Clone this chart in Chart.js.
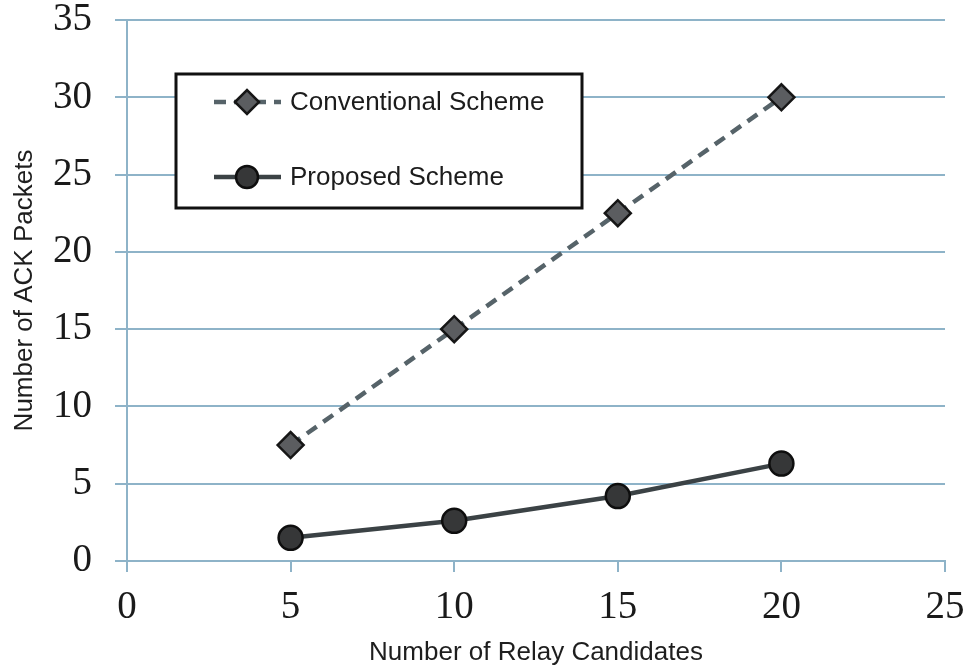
<!DOCTYPE html>
<html>
<head>
<meta charset="utf-8">
<script src="https://cdn.jsdelivr.net/npm/chart.js@4"></script>
<style>
html,body{margin:0;padding:0;background:#fff;}
#wrap{width:972px;height:669px;position:relative;}
</style>
</head>
<body>
<div id="wrap"><canvas id="c" width="972" height="669"></canvas></div>
<script>
const relayCandidates = [5, 10, 15, 20];
const conventionalAck = [7.5, 15, 22.5, 30];
const proposedAck = [1.5, 2.6, 4.2, 6.3];
const xTicks = [0, 5, 10, 15, 20, 25];
const yTicks = [0, 5, 10, 15, 20, 25, 30, 35];
const seriesNames = ['Conventional Scheme', 'Proposed Scheme'];
const xTitle = 'Number of Relay Candidates';
const yTitle = 'Number of ACK Packets';

const gridColor = '#8eb3c8';
const tickFont = {family: '"Liberation Serif", "Times New Roman", serif', size: 39, lineHeight: 1};
const titleFont = {family: '"Liberation Sans", Arial, sans-serif', size: 26};

const legendPlugin = {
  id: 'boxLegend',
  afterDraw(chart) {
    const ctx = chart.ctx;
    const box = {x: 176, y: 74, w: 406, h: 134};
    ctx.save();
    ctx.fillStyle = '#fff';
    ctx.fillRect(box.x, box.y, box.w, box.h);
    ctx.lineWidth = 3;
    ctx.strokeStyle = '#111';
    ctx.strokeRect(box.x, box.y, box.w, box.h);
    const rows = [102, 177];
    chart.data.datasets.forEach((ds, i) => {
      const y = rows[i];
      ctx.save();
      ctx.strokeStyle = ds.borderColor;
      ctx.lineWidth = ds.borderWidth;
      ctx.setLineDash(ds.borderDash || []);
      ctx.beginPath();
      ctx.moveTo(214, y);
      ctx.lineTo(281, y);
      ctx.stroke();
      ctx.restore();
      ctx.save();
      ctx.fillStyle = ds.pointBackgroundColor;
      ctx.strokeStyle = ds.pointBorderColor;
      ctx.lineWidth = ds.pointBorderWidth;
      Chart.helpers.drawPoint(ctx, {pointStyle: ds.pointStyle, radius: ds.pointRadius - 1, rotation: 0, borderWidth: ds.pointBorderWidth}, 247, y);
      ctx.restore();
      ctx.fillStyle = '#1c1c1c';
      ctx.font = '26px "Liberation Sans", Arial, sans-serif';
      ctx.textBaseline = 'middle';
      ctx.textAlign = 'left';
      ctx.fillText(ds.label, 290, y + 1);
    });
    ctx.restore();
  }
};

new Chart(document.getElementById('c'), {
  type: 'line',
  data: {
    datasets: [
      {
        label: seriesNames[0],
        data: relayCandidates.map((x, i) => ({x: x, y: conventionalAck[i]})),
        borderColor: '#566369',
        borderWidth: 4.5,
        borderDash: [12, 8],
        pointStyle: 'rectRot',
        pointRadius: 13,
        pointBackgroundColor: '#5b5d60',
        pointBorderColor: '#161616',
        pointBorderWidth: 2.5,
        tension: 0
      },
      {
        label: seriesNames[1],
        data: relayCandidates.map((x, i) => ({x: x, y: proposedAck[i]})),
        borderColor: '#3b4245',
        borderWidth: 4.5,
        pointStyle: 'circle',
        pointRadius: 12,
        pointBackgroundColor: '#363738',
        pointBorderColor: '#0e0e0e',
        pointBorderWidth: 2.5,
        tension: 0
      }
    ]
  },
  options: {
    responsive: false,
    animation: false,
    devicePixelRatio: 1,
    layout: {padding: {left: 0, top: 20, right: 27, bottom: 0}},
    plugins: {legend: {display: false}, tooltip: {enabled: false}},
    scales: {
      x: {
        type: 'linear',
        min: 0, max: 25,
        afterFit(s) { s.height = 108; s.paddingLeft = 0; s.paddingRight = 0; },
        afterBuildTicks(s) { s.ticks = xTicks.map(v => ({value: v})); },
        grid: {drawOnChartArea: false, drawTicks: true, tickLength: 11, color: gridColor, lineWidth: 2},
        border: {display: true, color: gridColor, width: 2},
        ticks: {font: tickFont, color: '#1a1a1a', padding: 16, maxRotation: 0, autoSkip: false},
        title: {display: true, text: xTitle, font: titleFont, color: '#1e1e1e', padding: {top: 0, bottom: 1}}
      },
      y: {
        min: 0, max: 35,
        afterFit(s) { s.width = 127; s.paddingTop = 0; s.paddingBottom = 0; },
        afterBuildTicks(s) { s.ticks = yTicks.map(v => ({value: v})); },
        grid: {color: gridColor, lineWidth: 2, tickLength: 12, drawTicks: true},
        border: {display: true, color: gridColor, width: 2},
        ticks: {font: tickFont, color: '#1a1a1a', padding: 23, autoSkip: false},
        title: {display: true, text: yTitle, font: titleFont, color: '#1e1e1e', padding: {top: 9, bottom: 0}}
      }
    }
  },
  plugins: [legendPlugin]
});
</script>
</body>
</html>
